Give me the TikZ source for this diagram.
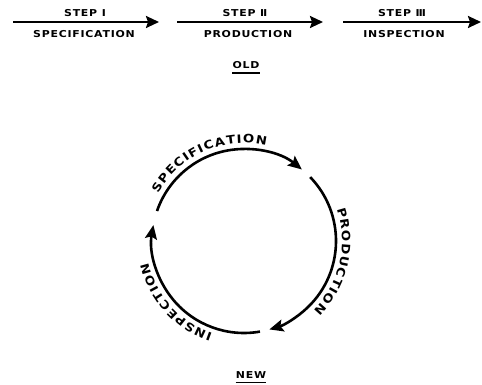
\documentclass[tikz,border=0pt]{standalone}
\usepackage{fontspec}
\usetikzlibrary{arrows.meta,decorations.text}
\newfontfamily\lettering{DejaVu Sans}[LetterSpace=8,FakeStretch=1.15]
\newfontfamily\ringface{DejaVu Sans}[WordSpace=0.25,FakeStretch=1.15]
\newcommand{\ringfont}{\ringface\bfseries\fontsize{11.5}{13}\selectfont}

\begin{document}
\begin{tikzpicture}[x=1pt,y=1pt,
  label text/.style={font=\lettering\bfseries\fontsize{9.5}{11}\selectfont,inner sep=0pt},
  arrow/.style={line width=2.3pt,-{Stealth[length=13pt,width=12pt,inset=2pt]}},
  ring/.style={line width=2.6pt,-{Stealth[length=14pt,width=12pt,inset=2.5pt]}},
  underbar/.style={line width=1.6pt}
]
\useasboundingbox (0,0) rectangle (482,385);
% old: three steps in a row
\coordinate (a1s) at (13,363);  \coordinate (a1e) at (159,363);
\coordinate (a2s) at (177,363); \coordinate (a2e) at (323,363);
\coordinate (a3s) at (343,363); \coordinate (a3e) at (481,363);
\node[label text] (s1) at (85,372) {STEP Ⅰ};
\node[label text] (n1) at (84,351) {SPECIFICATION};
\node[label text] (s2) at (245,372) {STEP Ⅱ};
\node[label text] (n2) at (248,351) {PRODUCTION};
\node[label text] (s3) at (402,372) {STEP Ⅲ};
\node[label text] (n3) at (404,351) {INSPECTION};
\draw[arrow] (a1s) -- (a1e);
\draw[arrow] (a2s) -- (a2e);
\draw[arrow] (a3s) -- (a3e);
\node[label text] (old) at (246,320) {OLD};
\draw[underbar] ([yshift=-4pt]old.south west) -- ([yshift=-4pt]old.south east);
% new: closed cycle
\coordinate (c) at (244,144);
\draw[ring] ([shift={(161:92)}]c) arc[start angle=161,end angle=51,radius=92];
\draw[ring] ([shift={(44:92)}]c) arc[start angle=44,end angle=-74,radius=92];
\draw[ring] ([shift={(-80:92)}]c) arc[start angle=-80,end angle=-190,radius=92];
\path[decorate,decoration={text along path,text align=center,text={|\ringfont|S P E C I F I C A T I O N}}]
  ([shift={(184:98)}]c) arc[start angle=184,end angle=44,radius=98];
\path[decorate,decoration={text along path,text align=center,text={|\ringfont|P R O D U C T I O N}}]
  ([shift={(57:98)}]c) arc[start angle=57,end angle=-83,radius=98];
\path[decorate,decoration={text along path,text align=center,text={|\ringfont|I N S P E C T I O N}}]
  ([shift={(-68:98)}]c) arc[start angle=-68,end angle=-208,radius=98];
\node[label text] (new) at (251,10) {NEW};
\draw[underbar] ([yshift=-4pt]new.south west) -- ([yshift=-4pt]new.south east);
\end{tikzpicture}
\end{document}
